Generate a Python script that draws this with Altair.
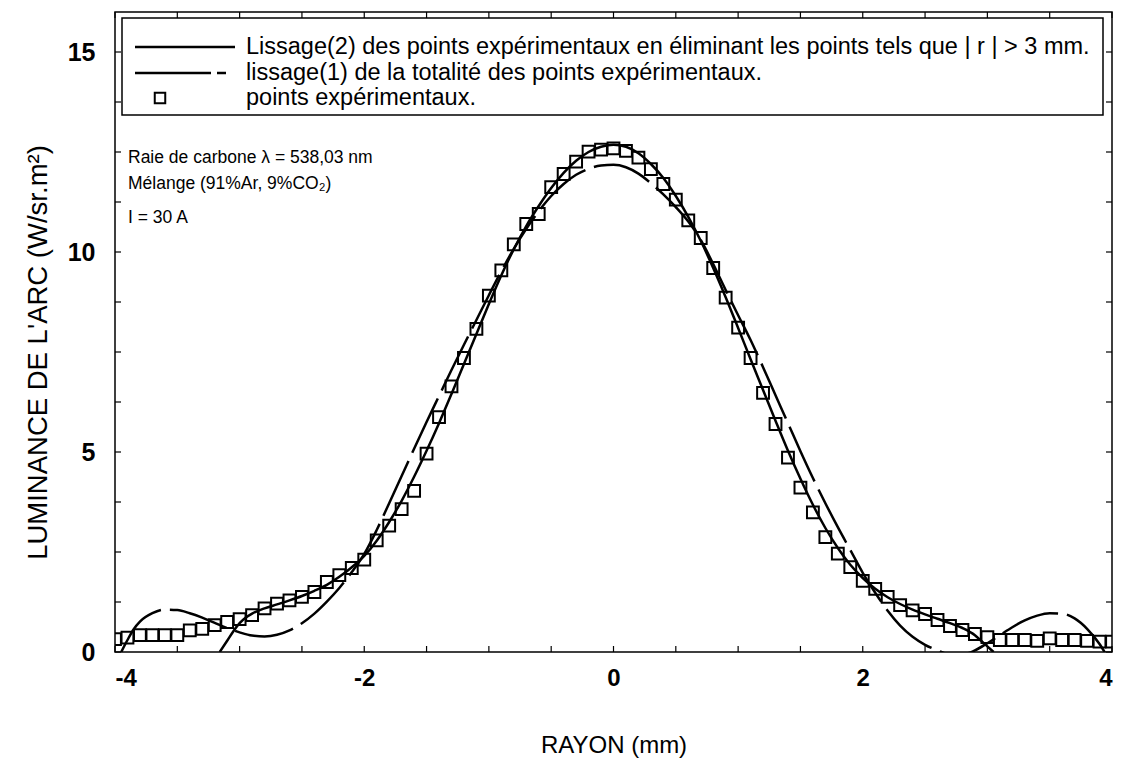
import altair as alt
import pandas as pd

# Experimental points: radius (mm) and arc luminance (W/sr.m2)
rayon = [-4.0, -3.9, -3.8, -3.7, -3.6, -3.5, -3.4, -3.3, -3.2, -3.1,
         -3.0, -2.9, -2.8, -2.7, -2.6, -2.5, -2.4, -2.3, -2.2, -2.1,
         -2.0, -1.9, -1.8, -1.7, -1.6, -1.5, -1.4, -1.3, -1.2, -1.1,
         -1.0, -0.9, -0.8, -0.7, -0.6, -0.5, -0.4, -0.3, -0.2, -0.1,
         0.0, 0.1, 0.2, 0.3, 0.4, 0.5, 0.6, 0.7, 0.8, 0.9,
         1.0, 1.1, 1.2, 1.3, 1.4, 1.5, 1.6, 1.7, 1.8, 1.9,
         2.0, 2.1, 2.2, 2.3, 2.4, 2.5, 2.6, 2.7, 2.8, 2.9,
         3.0, 3.1, 3.2, 3.3, 3.4, 3.5, 3.6, 3.7, 3.8, 3.9, 4.0]
luminance = [0.32, 0.36, 0.42, 0.42, 0.42, 0.42, 0.54, 0.58, 0.67, 0.75,
             0.82, 0.92, 1.09, 1.21, 1.29, 1.38, 1.50, 1.75, 1.92, 2.10,
             2.31, 2.79, 3.16, 3.57, 4.03, 4.96, 5.87, 6.64, 7.35, 8.08,
             8.91, 9.54, 10.19, 10.70, 10.95, 11.62, 11.95, 12.26, 12.51, 12.56,
             12.59, 12.53, 12.36, 12.07, 11.70, 11.31, 10.79, 10.35, 9.60, 8.86,
             8.11, 7.35, 6.48, 5.70, 4.86, 4.11, 3.49, 2.87, 2.46, 2.12,
             1.78, 1.58, 1.38, 1.17, 1.04, 0.95, 0.80, 0.65, 0.55, 0.45,
             0.37, 0.30, 0.30, 0.30, 0.28, 0.34, 0.30, 0.30, 0.28, 0.26, 0.26]

# Smoothing (2): fit restricted to |r| <= 3 mm
lissage2_r = [-3.16, -3.1, -3.05, -3.0, -2.95, -2.9, -2.8, -2.7, -2.6, -2.5,
              -2.4, -2.3, -2.2, -2.1, -2.0, -1.9, -1.8, -1.7, -1.6, -1.5,
              -1.4, -1.3, -1.2, -1.1, -1.0, -0.9, -0.8, -0.7, -0.6, -0.5,
              -0.4, -0.3, -0.2, -0.1, 0.0, 0.1, 0.2, 0.3, 0.4, 0.5,
              0.6, 0.7, 0.8, 0.9, 1.0, 1.1, 1.2, 1.3, 1.4, 1.5,
              1.6, 1.7, 1.8, 1.9, 2.0, 2.1, 2.2, 2.3, 2.4, 2.5,
              2.6, 2.7, 2.8, 2.9, 2.95, 3.0, 3.05]
lissage2_L = [0.0, 0.28, 0.52, 0.72, 0.86, 0.96, 1.09, 1.19, 1.29, 1.40,
              1.53, 1.68, 1.88, 2.12, 2.40, 2.78, 3.25, 3.78, 4.38, 5.03,
              5.72, 6.45, 7.20, 7.95, 8.70, 9.42, 10.07, 10.65, 11.15, 11.60,
              11.98, 12.28, 12.50, 12.63, 12.68, 12.63, 12.47, 12.20, 11.85, 11.40,
              10.88, 10.28, 9.60, 8.87, 8.10, 7.32, 6.55, 5.78, 5.03, 4.33,
              3.68, 3.10, 2.60, 2.18, 1.85, 1.58, 1.37, 1.20, 1.06, 0.94,
              0.83, 0.72, 0.60, 0.42, 0.28, 0.14, 0.0]

# Smoothing (1): fit over all experimental points
lissage1_r = [-3.95, -3.9, -3.85, -3.8, -3.7, -3.6, -3.5, -3.4, -3.3, -3.2,
              -3.1, -3.0, -2.9, -2.8, -2.7, -2.6, -2.5, -2.4, -2.3, -2.2,
              -2.1, -2.0, -1.9, -1.8, -1.7, -1.6, -1.5, -1.4, -1.3, -1.2,
              -1.1, -1.0, -0.9, -0.8, -0.7, -0.6, -0.5, -0.4, -0.3, -0.2,
              -0.1, 0.0, 0.1, 0.2, 0.3, 0.4, 0.5, 0.6, 0.7, 0.8,
              0.9, 1.0, 1.1, 1.2, 1.3, 1.4, 1.5, 1.6, 1.7, 1.8,
              1.9, 2.0, 2.1, 2.2, 2.3, 2.4, 2.5, 2.6, 2.7, 2.8,
              2.9, 3.0, 3.1, 3.2, 3.3, 3.4, 3.5, 3.6, 3.7, 3.8, 3.9, 3.95]
lissage1_L = [0.0, 0.30, 0.57, 0.76, 0.97, 1.06, 1.05, 0.97, 0.86, 0.73,
              0.60, 0.49, 0.41, 0.39, 0.43, 0.54, 0.72, 0.96, 1.26, 1.60,
              2.00, 2.45, 3.05, 3.72, 4.40, 5.08, 5.75, 6.40, 7.05, 7.68,
              8.30, 8.92, 9.52, 10.08, 10.58, 11.02, 11.40, 11.70, 11.93, 12.08,
              12.16, 12.18, 12.12, 11.96, 11.72, 11.44, 11.12, 10.76, 10.30, 9.70,
              9.05, 8.42, 7.80, 7.12, 6.42, 5.72, 5.02, 4.35, 3.72, 3.12,
              2.55, 1.98, 1.48, 1.03, 0.66, 0.38, 0.18, 0.04, -0.06, -0.06,
              0.04, 0.22, 0.42, 0.62, 0.79, 0.91, 0.97, 0.96, 0.84, 0.58, 0.20, -0.05]

# Tick positions (major ticks carry labels)
x_ticks = [-4, -3.5, -3, -2.5, -2, -1.5, -1, -0.5, 0, 0.5, 1, 1.5, 2, 2.5, 3, 3.5, 4]
x_labels = [-4, -2, 0, 2, 4]
y_ticks = [0, 1.25, 2.5, 3.75, 5, 6.25, 7.5, 8.75, 10, 11.25, 12.5, 13.75, 15]
y_labels = [0, 5, 10, 15]

W, H = 997, 640
FONT = "Liberation Sans"

pts = pd.DataFrame({"r": rayon, "L": luminance})
fit2 = pd.DataFrame({"r": lissage2_r, "L": lissage2_L})
fit1 = pd.DataFrame({"r": lissage1_r, "L": lissage1_L})
xt = pd.DataFrame({"r": x_ticks})
yt = pd.DataFrame({"L": y_ticks})

xs = alt.Scale(domain=[-4, 4], nice=False, zero=False)
ys = alt.Scale(domain=[0, 16], nice=False, zero=False)

xaxis = alt.Axis(values=x_labels, ticks=False, tickSize=0, domain=False, grid=False,
                 labelExpr="'' + datum.value",
                 labelFont=FONT, labelFontSize=24, labelFontWeight="bold", labelColor="black",
                 labelPadding=14, title="RAYON (mm)", titleFont=FONT, titleFontSize=24,
                 titleFontWeight="normal", titleColor="black", titleX=W / 2, titleY=93,
                 titleBaseline="middle")
yaxis = alt.Axis(values=y_labels, ticks=False, tickSize=0, domain=False, grid=False,
                 labelFont=FONT, labelFontSize=25, labelFontWeight="bold", labelColor="black",
                 labelPadding=20, title="LUMINANCE DE L'ARC (W/sr.m²)", titleFont=FONT,
                 titleFontSize=27.5, titleFontWeight="normal", titleColor="black",
                 titleX=-77, titleY=H / 2 + 20, titleAngle=-90, titleBaseline="middle",
                 titleAlign="center")

X = alt.X("r:Q", scale=xs, axis=xaxis)
Y = alt.Y("L:Q", scale=ys, axis=yaxis)

points = alt.Chart(pts).mark_point(
    shape="square", size=140, filled=False, color="black", strokeWidth=2, opacity=1, clip=True
).encode(x=X, y=Y)

line2 = alt.Chart(fit2).mark_line(
    color="black", strokeWidth=2.5, interpolate="monotone", clip=True
).encode(x=X, y=Y, order="r:Q")

line1 = alt.Chart(fit1).mark_line(
    color="black", strokeWidth=2.5, strokeDash=[60, 9], interpolate="monotone", clip=True
).encode(x=X, y=Y, order="r:Q")

# Inward ticks on the four sides of the frame
tick_len = 6
bottom_ticks = alt.Chart(xt).mark_rule(color="black", strokeWidth=1.2).encode(
    x=X, y=alt.value(H), y2=alt.value(H - tick_len))
top_ticks = alt.Chart(xt).mark_rule(color="black", strokeWidth=1.2).encode(
    x=X, y=alt.value(0), y2=alt.value(tick_len))
left_ticks = alt.Chart(yt).mark_rule(color="black", strokeWidth=1.2).encode(
    y=Y, x=alt.value(0), x2=alt.value(tick_len))
right_ticks = alt.Chart(yt).mark_rule(color="black", strokeWidth=1.2).encode(
    y=Y, x=alt.value(W), x2=alt.value(W - tick_len))

one = alt.Data(values=[{}])

# Legend box
legend_box = alt.Chart(one).mark_rect(fill="white", stroke="black", strokeWidth=1.5).encode(
    x=alt.value(7), x2=alt.value(988), y=alt.value(6), y2=alt.value(103))
leg_solid = alt.Chart(one).mark_rule(color="black", strokeWidth=2.5).encode(
    x=alt.value(20), x2=alt.value(120), y=alt.value(35))
leg_dash = alt.Chart(one).mark_rule(color="black", strokeWidth=2.5, strokeDash=[76, 6]).encode(
    x=alt.value(20), x2=alt.value(111), y=alt.value(61))
leg_square = alt.Chart(one).mark_point(
    shape="square", size=110, filled=False, color="black", strokeWidth=2, opacity=1
).encode(x=alt.value(45), y=alt.value(86))


def label(txt, x, y, size=18, align="left"):
    return alt.Chart(one).mark_text(
        text=txt, font=FONT, fontSize=size, color="black", align=align, baseline="middle"
    ).encode(x=alt.value(x), y=alt.value(y))


leg_t1 = label("Lissage(2) des points expérimentaux en éliminant les points tels que  |  r  |  > 3 mm.", 131, 35, size=23.5)
leg_t2 = label("lissage(1) de la totalité des points expérimentaux.", 131, 61, size=23.5)
leg_t3 = label("points expérimentaux.", 131, 86, size=23.5)

ann1 = label("Raie de carbone λ = 538,03 nm", 13, 146, size=17.5)
ann2 = label("Mélange (91%Ar, 9%CO₂)", 13, 172, size=17.5)
ann3 = label("I = 30 A", 13, 206, size=17.5)

chart = alt.layer(
    points, line2, line1,
    bottom_ticks, top_ticks, left_ticks, right_ticks,
    legend_box, leg_solid, leg_dash, leg_square, leg_t1, leg_t2, leg_t3,
    ann1, ann2, ann3,
).properties(
    width=W, height=H,
    autosize="none",
    padding={"left": 115, "top": 12, "right": 13, "bottom": 108},
    background="white",
).configure_view(stroke="black", strokeWidth=1.5)

chart.save("out.html", embed_options={"renderer": "svg", "actions": False})
